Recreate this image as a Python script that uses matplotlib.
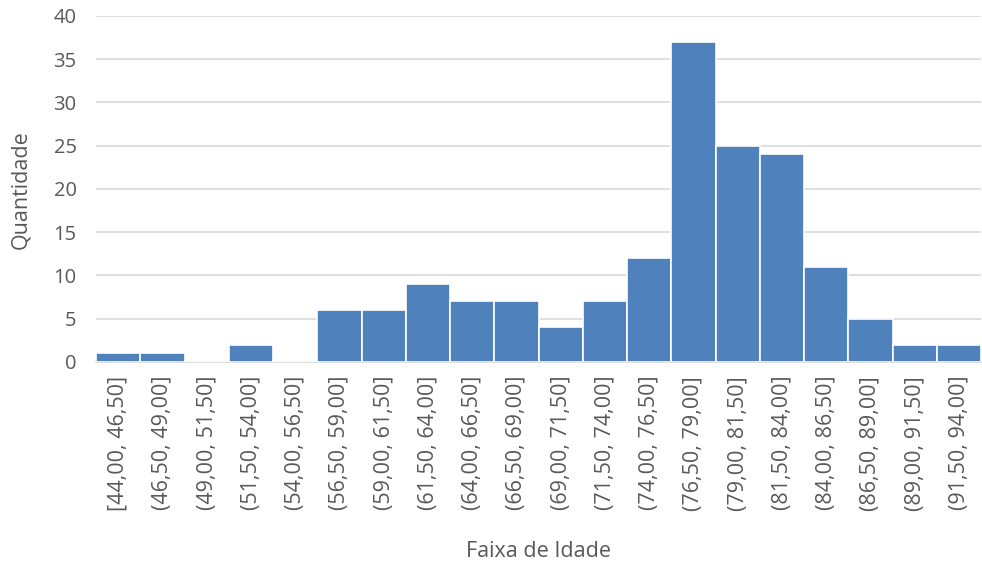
import matplotlib
matplotlib.use("Agg")
import matplotlib.pyplot as plt
import numpy as np

plt.rcParams['font.family'] = ['Open Sans', 'DejaVu Sans']

faixas = ["[44,00, 46,50]", "(46,50, 49,00]", "(49,00, 51,50]", "(51,50, 54,00]",
          "(54,00, 56,50]", "(56,50, 59,00]", "(59,00, 61,50]", "(61,50, 64,00]",
          "(64,00, 66,50]", "(66,50, 69,00]", "(69,00, 71,50]", "(71,50, 74,00]",
          "(74,00, 76,50]", "(76,50, 79,00]", "(79,00, 81,50]", "(81,50, 84,00]",
          "(84,00, 86,50]", "(86,50, 89,00]", "(89,00, 91,50]", "(91,50, 94,00]"]
quantidade = [1, 1, 0, 2, 0, 6, 6, 9, 7, 7, 4, 7, 12, 37, 25, 24, 11, 5, 2, 2]
yticks = [0, 5, 10, 15, 20, 25, 30, 35, 40]

text_color = "#595959"
bar_color = "#4F81BD"
grid_color = "#D9D9D9"

fig = plt.figure(figsize=(9.82, 5.67), dpi=100)
ax = fig.add_axes([0.0978, 0.3616, 0.9012, 0.6102])

x = np.arange(len(quantidade))
ax.bar(x, quantidade, width=1.0, color=bar_color, edgecolor="white", linewidth=1.2, zorder=3)

ax.set_xlim(-0.5, len(quantidade) - 0.5)
ax.set_ylim(0, 40)
ax.set_yticks(yticks)
ax.set_yticklabels([str(v) for v in yticks], fontsize=14.5, color=text_color)
ax.set_xticks(x)
ax.set_xticklabels(faixas, rotation=90, fontsize=15.5, color=text_color)
ax.tick_params(axis="both", length=0)
ax.tick_params(axis="y", pad=14)
ax.tick_params(axis="x", pad=10)

ax.grid(axis="y", color=grid_color, linewidth=1.2, zorder=0)
for side in ["top", "right", "left"]:
    ax.spines[side].set_visible(False)
ax.spines["bottom"].set_color(grid_color)
ax.spines["bottom"].set_linewidth(1.2)

fig.text(0.021, 0.665, "Quantidade", fontsize=15.5, color=text_color,
         rotation=90, ha="center", va="center")
fig.text(0.548, 0.027, "Faixa de Idade", fontsize=15.5, color=text_color, ha="center", va="center")

fig.savefig("out.png", dpi=100, facecolor="white")
